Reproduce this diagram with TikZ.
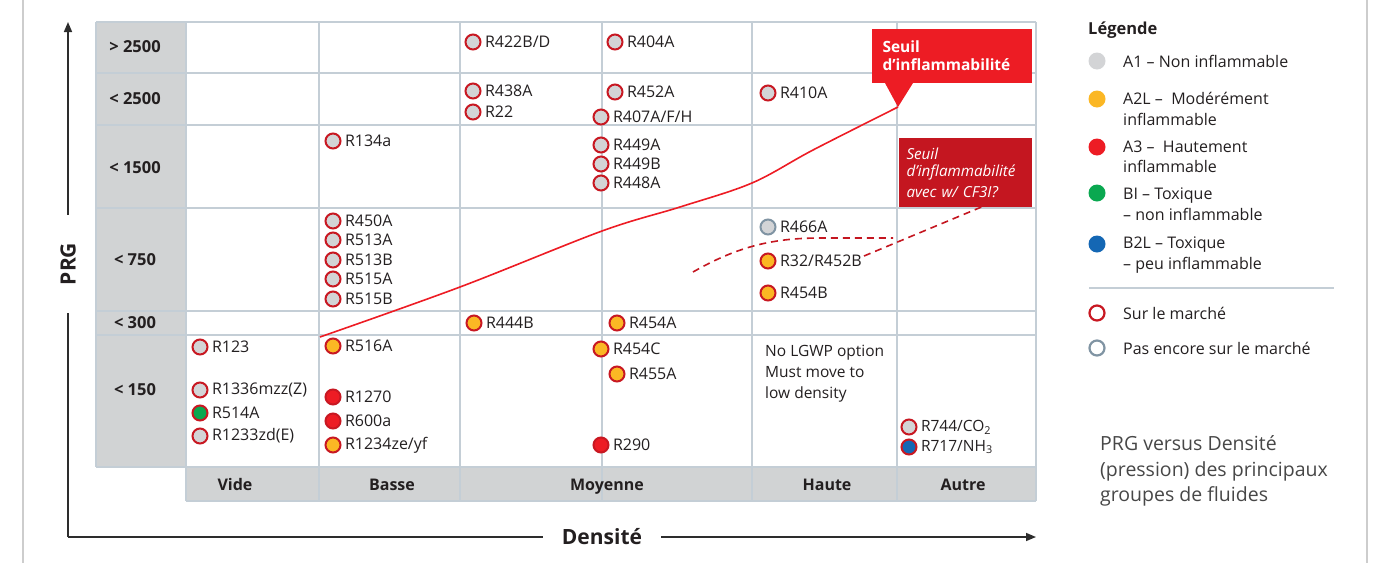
\documentclass[tikz,border=0pt]{standalone}
\usepackage{fontspec}
\setmainfont{Open Sans}
\usepackage{xcolor}
\usepackage{tikz}
\usetikzlibrary{arrows.meta,positioning,calc}
\definecolor{cellgray}{RGB}{209,211,212}
\definecolor{gridblue}{RGB}{196,206,214}
\definecolor{dotgray}{RGB}{211,212,214}
\definecolor{dotorange}{RGB}{251,183,36}
\definecolor{dotred}{RGB}{237,28,36}
\definecolor{dotgreen}{RGB}{10,168,80}
\definecolor{dotblue}{RGB}{20,103,180}
\definecolor{ringred}{RGB}{200,24,34}
\definecolor{ringgray}{RGB}{128,148,163}
\definecolor{seuilred}{RGB}{237,28,36}
\definecolor{seuildark}{RGB}{196,22,32}
\definecolor{axisgray}{RGB}{45,45,45}
\definecolor{pagegray}{RGB}{205,205,205}
\definecolor{ink}{RGB}{35,31,32}

\tikzset{
  gridline/.style={gridblue, line width=1.4pt},
  rowlbl/.style={font=\bfseries\fontsize{16.5}{18}\selectfont, text=ink},
  collbl/.style={font=\bfseries\fontsize{16}{18}\selectfont, text=ink, anchor=base},
  axis/.style={axisgray, line width=1.5pt},
  axislbl/.style={font=\bfseries\fontsize{21}{24}\selectfont, text=ink, inner ysep=0pt},
  fl/.style={circle, draw=ringred, line width=2pt, minimum size=15pt, inner sep=0pt,
    label distance=3pt},
  a1/.style={fl, fill=dotgray},
  a2l/.style={fl, fill=dotorange},
  a3/.style={fl, fill=dotred},
  b1/.style={fl, fill=dotgreen},
  b2l/.style={fl, fill=dotblue},
  pre/.style={a1, draw=ringgray},
  legdot/.style={circle, minimum size=17pt, inner sep=0pt},
  legring/.style={circle, draw=#1, line width=2.2pt, minimum size=15pt, inner sep=0pt, fill=white},
  legtxt/.style={anchor=west, align=left, inner sep=0pt, text=ink,
    font=\fontsize{16}{20.5}\selectfont},
  seuilline/.style={seuilred, line width=1.6pt},
  seuildash/.style={seuildark, line width=1.6pt, dash pattern=on 7pt off 5pt},
}

\begin{document}
\begin{tikzpicture}[x=1pt, y=-1pt, font=\fontsize{16}{18}\selectfont, text=ink,
  >={Triangle[length=10pt,width=8pt]}]
\useasboundingbox (0,0) rectangle (1373,563);
\draw[pagegray, line width=2pt] (23,0) -- (23,563) (1367,0) -- (1367,563);

% table cells
\fill[cellgray] (96,22) rectangle (186,467) (186,467) rectangle (1036,501);
\foreach \y in {22,73,125,208,311,335,467} \draw[gridline] (96,\y) -- (1036,\y);
\draw[gridline] (186,501) -- (1036,501);
\draw[gridline] (96,22) -- (96,467);
\foreach \x in {186,319,460,602,752,897,1036} \draw[gridline] (\x,22) -- (\x,501);

\foreach \y/\t [count=\i] in {47/{> 2500}, 99/{< 2500}, 168/{< 1500}, 260/{< 750}, 323/{< 300}, 390/{< 150}}
  \node[rowlbl] (gwp\i) at (135,\y) {\t};
\foreach \x/\t in {235/Vide, 392/Basse, 607/Moyenne, 827/Haute, 963/Autre}
  \node[collbl] (\t) at (\x,490) {\t};

% axes
\coordinate (origin) at (68,537);
\node[axislbl, rotate=90, inner xsep=28pt] (prg) at (68,264) {PRG};
\node[axislbl, inner xsep=19pt] (densite) at (602,537) {Densité};
\draw[axis] (origin) -- (prg.west);
\draw[axis, ->] (prg.east) -- (68,22);
\draw[axis] (origin) -- (densite.west);
\draw[axis, ->] (densite.east) -- (1036,537);

% threshold curves
\coordinate (tip) at (898,107);
\coordinate (lowend) at (320,337);
\draw[seuilline] plot[smooth, tension=0.55] coordinates {(lowend) (460,287) (602,231) (680,207) (752,183) (813,150) (tip)};
\node[fill=seuilred, text=white, font=\bfseries\fontsize{15.5}{18}\selectfont, align=left,
  minimum width=160pt, minimum height=54pt, text width=145pt, inner xsep=7.5pt, outer sep=0pt]
  (seuil) at (952,56) {\hspace*{3pt}Seuil\\\hspace*{3pt}d’inflammabilité};
\fill[seuilred] ($(seuil.south west)+(13,0)$) -- (tip) -- ($(seuil.south west)+(41,0)$) -- cycle;
\node[fill=seuildark, text=white, font=\itshape\fontsize{15.2}{17.5}\selectfont, align=left,
  minimum width=133pt, minimum height=69pt, text width=122pt, inner xsep=5.5pt, outer sep=0pt]
  (seuilcf) at (965.5,172.5) {\hspace*{2pt}Seuil\\\hspace*{2pt}d’inflammabilité\\[3pt]\hspace*{2pt}avec w/ CF3I?};
\coordinate (dashA) at (693,272);
\coordinate (dashB) at (893,238);
\coordinate (dashC) at (864,256);
\draw[seuildash] (dashA) .. controls (735,248) and (770,238) .. (820,238) -- (dashB);
\draw[seuildash] (dashC) -- ($(seuilcf.south west)!0.62!(seuilcf.south east)$);

% fluids
\node[a1, label=right:R422B/D] (r422bd) at (473,42) {};
\node[a1, label=right:R404A] (r404a) at (615,42) {};
\node[a1, label=right:R438A] (r438a) at (473,91) {};
\node[a1, label=right:R22] (r22) at (473,112) {};
\node[a1, label=right:R452A] (r452a) at (615,92) {};
\node[a1, label=right:R407A/F/H] (r407) at (601,117) {};
\node[a1, label=right:R410A] (r410a) at (768,93) {};
\node[a1, label=right:R134a] (r134a) at (333,141) {};
\node[a1, label=right:R449A] (r449a) at (601,145) {};
\node[a1, label=right:R449B] (r449b) at (601,164) {};
\node[a1, label=right:R448A] (r448a) at (601,183) {};
\node[a1, label=right:R450A] (r450a) at (333,221) {};
\node[a1, label=right:R513A] (r513a) at (333,240) {};
\node[a1, label=right:R513B] (r513b) at (333,260) {};
\node[a1, label=right:R515A] (r515a) at (333,279) {};
\node[a1, label=right:R515B] (r515b) at (333,299) {};
\node[pre, label=right:R466A] (r466a) at (768,227) {};
\node[a2l, label=right:R32/R452B] (r32) at (768,261) {};
\node[a2l, label=right:R454B] (r454b) at (768,293) {};
\node[a2l, label=right:R444B] (r444b) at (474,323) {};
\node[a2l, label=right:R454A] (r454a) at (617,323) {};
\node[a1, label=right:R123] (r123) at (200,347) {};
\node[a2l, label=right:R516A] (r516a) at (333,346) {};
\node[a2l, label=right:R454C] (r454c) at (601,349) {};
\node[a2l, label=right:R455A] (r455a) at (617,374) {};
\node[a1, label={right:R1336mzz(Z)}] (r1336) at (200,390) {};
\node[b1, label=right:R514A] (r514a) at (200,413) {};
\node[a1, label={right:R1233zd(E)}] (r1233) at (200,436) {};
\node[a3, label=right:R1270] (r1270) at (333,397) {};
\node[a3, label=right:R600a] (r600a) at (333,421) {};
\node[a2l, label=right:R1234ze/yf] (r1234) at (333,445) {};
\node[a3, label=right:R290] (r290) at (601,445) {};
\node[a1, label={[font=\fontsize{15.5}{16}\selectfont]right:R744/CO\textsubscript{2}}] (r744) at (909,427) {};
\node[b2l, label={[font=\fontsize{15.5}{16}\selectfont]right:R717/NH\textsubscript{3}}] (r717) at (909,447) {};
\node[legtxt, font=\fontsize{15.5}{21}\selectfont] (nolgwp) at (765,374) {No LGWP option\\Must move to\\low density};

% legend
\node[anchor=west, inner sep=0pt, font=\bfseries\fontsize{16.5}{18}\selectfont] (legende) at (1088,30) {Légende};
\foreach \y/\ty/\c/\t [count=\i] in {61/61/dotgray/{A1 -- Non inflammable},
    99/109/dotorange/{A2L -- ~Modérément\\inflammable},
    147/157/dotred/{A3 -- ~Hautement\\inflammable},
    193/204/dotgreen/{BI -- Toxique\\-- non inflammable},
    244/255/dotblue/{B2L -- Toxique\\-- peu inflammable}} {
  \node[legdot, fill=\c] (key\i) at (1097,\y) {};
  \node[legtxt] (keytxt\i) at (1123,\ty) {\t};
}
\draw[gridline, line width=1.2pt] (1089,288) -- (1334,288);
\node[legring=ringred] (keymkt) at (1097,313) {};
\node[legtxt] (keymkttxt) at (1123,313) {Sur le marché};
\node[legring=ringgray] (keypre) at (1097,348) {};
\node[legtxt] (keypretxt) at (1123,348) {Pas encore sur le marché};

\node[legtxt, text=black!72, font=\fontsize{19.5}{25.8}\selectfont] (caption) at (1100,471)
  {PRG versus Densité\\(pression) des principaux\\groupes de fluides};
\end{tikzpicture}
\end{document}
